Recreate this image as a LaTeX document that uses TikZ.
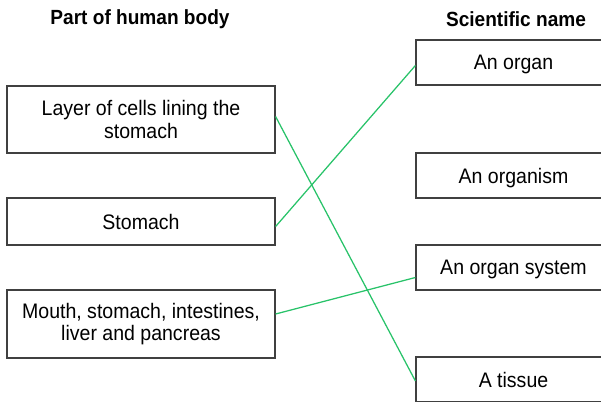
\documentclass[tikz,border=0pt]{standalone}
\usepackage{fontspec}
\setmainfont{Liberation Sans}[FakeStretch=0.93]
\begin{document}
\begin{tikzpicture}[x=1pt,y=-1pt,
  box/.style={draw=black!75, line width=1.2pt, fill=white, align=center, inner sep=0pt,
    font=\fontsize{21}{22.5}\selectfont},
  rbox/.style={box, minimum width=195pt, minimum height=45pt, text depth=0pt},
  head/.style={font=\bfseries\fontsize{20.5}{22}\selectfont, inner sep=0pt},
  link/.style={draw={rgb,255:red,40;green,195;blue,105}, line width=1.25pt}]
\useasboundingbox (0,0) rectangle (601,401);
\clip (0,0) rectangle (601,401);
\fill[white] (0,0) rectangle (601,401);
\node[head] (h1) at (140,19) {Part of human body};
\node[head] (h2) at (516,19) {Scientific name};
% left boxes
\node[box, minimum width=268pt, minimum height=67pt] (b1) at (141,119.5) {Layer of cells lining the\\stomach};
\node[box, minimum width=268pt, minimum height=47pt] (b2) at (141,221.5) {Stomach};
\node[box, minimum width=268pt, minimum height=68pt] (b3) at (141,324) {Mouth, stomach, intestines,\\liver and pancreas};
% right boxes
\node[rbox] (r1) at (513.5,62.5) {An organ};
\node[rbox] (r2) at (513.5,175.5) {An organism};
\node[rbox] (r3) at (513.5,267.5) {An organ system};
\node[rbox] (r4) at (513.5,379.5) {A tissue};
% connectors
\draw[link] ([yshift=3pt]b1.east) -- ([yshift=-1.5pt]r4.west);
\draw[link] ([yshift=-5pt]b2.east) -- ([yshift=-3pt]r1.west);
\draw[link] ([yshift=10pt]b3.east) -- ([yshift=-10pt]r3.west);
\end{tikzpicture}
\end{document}
